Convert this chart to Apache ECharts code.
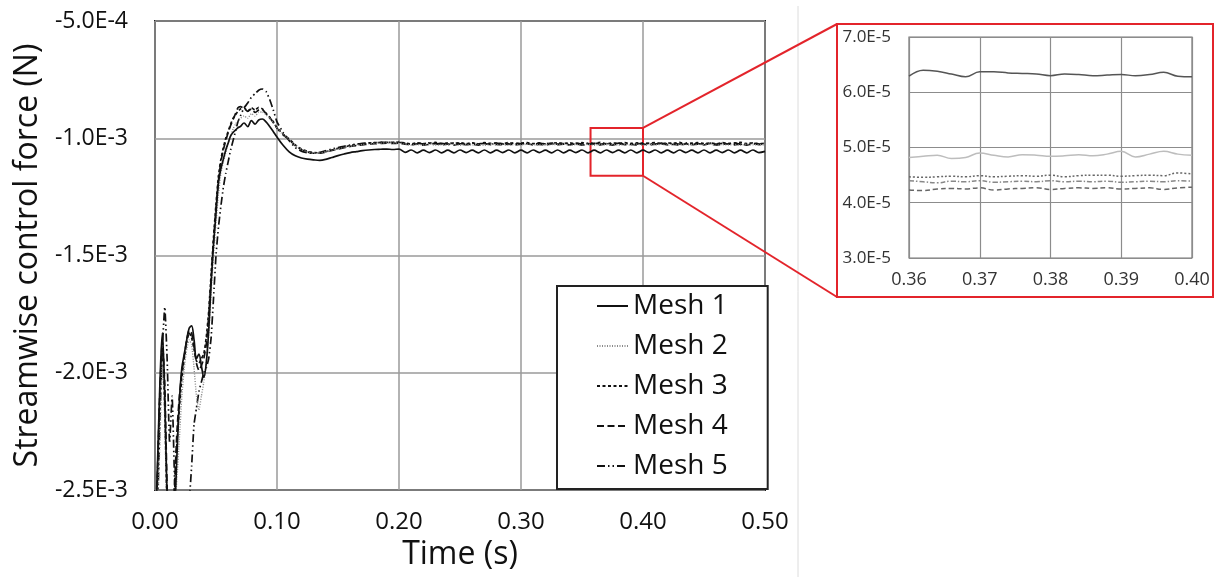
<!DOCTYPE html>
<html>
<head>
<meta charset="utf-8">
<script src="https://cdn.jsdelivr.net/npm/echarts@6/dist/echarts.min.js"></script>
<style>
html,body{margin:0;padding:0;background:#fff;}
#chart{width:1217px;height:577px;}
</style>
</head>
<body>
<div id="chart"></div>
<script>
// ---------------- DATA ----------------
const meshNames = ['Mesh 1', 'Mesh 2', 'Mesh 3', 'Mesh 4', 'Mesh 5'];

// Main chart: time (s)
const time = [
  0.000,0.002,0.004,0.006,0.008,0.010,0.012,0.014,0.016,0.018,
  0.020,0.022,0.024,0.026,0.028,0.030,0.032,0.034,0.036,0.038,
  0.040,0.042,0.044,0.046,0.048,0.050,0.052,0.054,0.056,0.058,
  0.060,0.062,0.064,0.066,0.068,0.070,
  0.073,0.076,0.079,0.082,0.085,0.088,0.091,0.094,0.097,0.100,
  0.105,0.110,0.115,0.120,0.125,0.130,0.135,0.140,0.145,0.150,
  0.155,0.160,0.165,0.170,0.175,0.180,0.185,0.190,0.195,0.200,
  0.205,0.210,0.215,0.220,0.225,0.230,0.235,0.240,0.245,0.250,
  0.255,0.260,0.265,0.270,0.275,0.280,0.285,0.290,0.295,0.300,
  0.305,0.310,0.315,0.320,0.325,0.330,0.335,0.340,0.345,0.350,
  0.355,0.360,0.365,0.370,0.375,0.380,0.385,0.390,0.395,0.400,
  0.405,0.410,0.415,0.420,0.425,0.430,0.435,0.440,0.445,0.450,
  0.455,0.460,0.465,0.470,0.475,0.480,0.485,0.490,0.495,0.500
];

// Streamwise control force, in mN (converted to N when building series)
const mesh1_mN = [
  -2.70,-2.40,-2.05,-1.83,-2.10,-2.55,-2.75,-2.70,-2.60,-2.35,
  -2.12,-1.98,-1.92,-1.86,-1.81,-1.80,-1.86,-1.94,-1.92,-1.97,
  -2.02,-1.96,-1.82,-1.62,-1.45,-1.32,-1.19,-1.13,-1.09,-1.05,
  -1.02,-0.99,-0.975,-0.965,-0.955,-0.950,
  -0.935,-0.950,-0.925,-0.940,-0.922,-0.918,-0.930,-0.950,-0.972,-0.995,
  -1.030,-1.058,-1.075,-1.084,-1.089,-1.092,-1.094,-1.090,-1.082,-1.074,
  -1.067,-1.061,-1.057,-1.053,-1.050,-1.048,-1.047,-1.046,-1.048,-1.046,
  -1.060,-1.050,-1.062,-1.051,-1.061,-1.050,-1.062,-1.051,-1.062,-1.050,
  -1.061,-1.051,-1.062,-1.050,-1.062,-1.051,-1.061,-1.050,-1.062,-1.051,
  -1.062,-1.050,-1.061,-1.051,-1.062,-1.050,-1.062,-1.051,-1.061,-1.050,
  -1.062,-1.051,-1.062,-1.050,-1.061,-1.051,-1.062,-1.050,-1.062,-1.051,
  -1.061,-1.050,-1.062,-1.051,-1.062,-1.050,-1.061,-1.051,-1.062,-1.050,
  -1.062,-1.051,-1.061,-1.050,-1.062,-1.051,-1.062,-1.050,-1.061,-1.056
];
const mesh2_mN = [
  -2.80,-2.60,-2.30,-1.95,-2.20,-2.65,-2.80,-2.75,-2.60,-2.45,
  -2.28,-2.10,-1.98,-1.90,-1.86,-1.88,-1.98,-2.10,-2.16,-2.10,
  -2.04,-1.96,-1.84,-1.66,-1.50,-1.36,-1.24,-1.15,-1.10,-1.06,
  -1.02,-0.99,-0.96,-0.94,-0.925,-0.915,
  -0.905,-0.915,-0.895,-0.905,-0.890,-0.888,-0.900,-0.915,-0.935,-0.958,
  -0.985,-1.005,-1.030,-1.048,-1.058,-1.063,-1.063,-1.058,-1.051,-1.045,
  -1.039,-1.034,-1.030,-1.027,-1.024,-1.022,-1.021,-1.020,-1.021,-1.020,
  -1.026,-1.030,-1.027,-1.029,-1.025,-1.030,-1.028,-1.027,-1.025,-1.030,
  -1.027,-1.029,-1.026,-1.030,-1.025,-1.028,-1.027,-1.030,-1.026,-1.029,
  -1.025,-1.029,-1.027,-1.030,-1.026,-1.028,-1.025,-1.030,-1.027,-1.029,
  -1.026,-1.030,-1.025,-1.028,-1.027,-1.030,-1.026,-1.029,-1.025,-1.030,
  -1.027,-1.028,-1.026,-1.030,-1.025,-1.029,-1.027,-1.030,-1.026,-1.028,
  -1.025,-1.030,-1.027,-1.029,-1.026,-1.030,-1.025,-1.028,-1.027,-1.029
];
const mesh3_mN = [
  -2.75,-2.45,-2.10,-1.90,-2.15,-2.60,-2.75,-2.65,-2.50,-2.30,
  -2.15,-2.02,-1.94,-1.87,-1.83,-1.85,-1.90,-1.95,-1.96,-1.94,
  -1.92,-1.85,-1.74,-1.58,-1.42,-1.28,-1.16,-1.09,-1.04,-1.00,
  -0.97,-0.94,-0.915,-0.900,-0.885,-0.875,
  -0.870,-0.885,-0.870,-0.880,-0.868,-0.875,-0.893,-0.910,-0.930,-0.955,
  -0.982,-1.003,-1.028,-1.046,-1.056,-1.061,-1.062,-1.057,-1.050,-1.043,
  -1.037,-1.031,-1.027,-1.024,-1.021,-1.019,-1.018,-1.017,-1.018,-1.017,
  -1.020,-1.024,-1.019,-1.023,-1.021,-1.018,-1.024,-1.020,-1.022,-1.019,
  -1.023,-1.020,-1.024,-1.019,-1.022,-1.020,-1.023,-1.018,-1.024,-1.021,
  -1.019,-1.023,-1.020,-1.024,-1.021,-1.019,-1.022,-1.020,-1.024,-1.019,
  -1.023,-1.021,-1.018,-1.024,-1.020,-1.022,-1.019,-1.023,-1.020,-1.024,
  -1.021,-1.019,-1.023,-1.020,-1.022,-1.018,-1.024,-1.021,-1.019,-1.023,
  -1.020,-1.024,-1.019,-1.022,-1.021,-1.018,-1.023,-1.020,-1.024,-1.021
];
const mesh4_mN = [
  -2.72,-2.42,-2.08,-1.86,-2.05,-2.50,-2.70,-2.62,-2.48,-2.25,
  -2.10,-2.00,-1.93,-1.86,-1.82,-1.83,-1.89,-1.96,-1.99,-1.97,
  -1.94,-1.88,-1.76,-1.60,-1.44,-1.30,-1.18,-1.10,-1.05,-1.01,
  -0.975,-0.945,-0.920,-0.895,-0.870,-0.865,
  -0.872,-0.885,-0.875,-0.890,-0.880,-0.878,-0.895,-0.912,-0.933,-0.957,
  -0.986,-1.006,-1.031,-1.049,-1.059,-1.064,-1.064,-1.059,-1.052,-1.046,
  -1.040,-1.035,-1.031,-1.028,-1.025,-1.023,-1.022,-1.021,-1.022,-1.021,
  -1.025,-1.028,-1.024,-1.029,-1.026,-1.023,-1.028,-1.025,-1.029,-1.024,
  -1.027,-1.025,-1.029,-1.023,-1.027,-1.026,-1.028,-1.024,-1.029,-1.025,
  -1.023,-1.028,-1.026,-1.029,-1.024,-1.027,-1.025,-1.028,-1.023,-1.029,
  -1.026,-1.024,-1.028,-1.025,-1.029,-1.023,-1.027,-1.026,-1.028,-1.024,
  -1.029,-1.025,-1.023,-1.028,-1.026,-1.029,-1.024,-1.027,-1.025,-1.028,
  -1.023,-1.029,-1.026,-1.024,-1.028,-1.025,-1.029,-1.024,-1.027,-1.026
];
const mesh5_mN = [
  -2.80,-2.60,-2.20,-1.90,-1.72,-1.95,-2.30,-2.10,-2.45,-2.70,
  -2.80,-2.75,-2.70,-2.62,-2.55,-2.40,-2.22,-2.15,-2.08,-2.04,
  -2.00,-1.98,-1.94,-1.85,-1.68,-1.50,-1.38,-1.29,-1.21,-1.15,
  -1.10,-1.05,-1.01,-0.97,-0.93,-0.905,
  -0.870,-0.850,-0.825,-0.810,-0.795,-0.790,-0.800,-0.835,-0.880,-0.930,
  -0.975,-1.010,-1.040,-1.055,-1.062,-1.064,-1.060,-1.053,-1.046,-1.040,
  -1.034,-1.029,-1.025,-1.022,-1.020,-1.019,-1.018,-1.017,-1.018,-1.017,
  -1.022,-1.026,-1.021,-1.025,-1.020,-1.024,-1.022,-1.026,-1.021,-1.023,
  -1.025,-1.020,-1.024,-1.022,-1.026,-1.021,-1.025,-1.023,-1.020,-1.024,
  -1.022,-1.026,-1.021,-1.024,-1.020,-1.025,-1.023,-1.026,-1.021,-1.024,
  -1.022,-1.020,-1.025,-1.023,-1.026,-1.021,-1.024,-1.022,-1.025,-1.020,
  -1.023,-1.026,-1.021,-1.024,-1.022,-1.025,-1.020,-1.024,-1.023,-1.026,
  -1.021,-1.025,-1.022,-1.024,-1.020,-1.026,-1.023,-1.021,-1.025,-1.022
];

// Inset (zoom 0.36-0.40 s): values in units of 1E-5 N
const insetTime = [
  0.360,0.362,0.364,0.366,0.368,0.370,0.372,0.374,0.376,0.378,
  0.380,0.382,0.384,0.386,0.388,0.390,0.392,0.394,0.396,0.398,0.400
];
const inset1_e5 = [6.29,6.40,6.38,6.33,6.28,6.37,6.37,6.35,6.34,6.33,6.30,6.33,6.32,6.30,6.31,6.32,6.30,6.32,6.36,6.29,6.28];
const inset2_e5 = [4.82,4.84,4.86,4.80,4.82,4.90,4.86,4.83,4.87,4.86,4.84,4.85,4.87,4.85,4.88,4.93,4.83,4.88,4.93,4.88,4.86];
const inset3_e5 = [4.47,4.46,4.47,4.48,4.47,4.49,4.47,4.48,4.49,4.48,4.50,4.47,4.49,4.50,4.50,4.48,4.49,4.50,4.49,4.54,4.52];
const inset4_e5 = [4.23,4.22,4.25,4.26,4.25,4.27,4.23,4.25,4.26,4.27,4.24,4.26,4.27,4.26,4.27,4.25,4.26,4.27,4.24,4.27,4.28];
const inset5_e5 = [4.40,4.38,4.36,4.39,4.38,4.40,4.37,4.38,4.39,4.38,4.40,4.38,4.39,4.38,4.39,4.37,4.38,4.39,4.38,4.40,4.39];

// Zoom box drawn on the main chart (time s, force N)
const zoomBox = { t0: 0.357, t1: 0.400, vTop: -0.956e-3, vBottom: -1.160e-3 };

// ---------------- CHART ----------------
const FONT = 'Open Sans';
const RED = '#e3242b';
const chart = echarts.init(document.getElementById('chart'), null, { renderer: 'canvas' });

const mainVals = [mesh1_mN, mesh2_mN, mesh3_mN, mesh4_mN, mesh5_mN];
const insetVals = [inset1_e5, inset2_e5, inset3_e5, inset4_e5, inset5_e5];

const mainStyles = [
  { color: '#111', type: 'solid', width: 1.7 },
  { color: '#8a8a8a', type: [1, 1.5], width: 1.4 },
  { color: '#111', type: [3, 2.5], width: 1.7 },
  { color: '#111', type: [7, 3.5], width: 1.7 },
  { color: '#111', type: [8, 3, 1.5, 3, 1.5, 3], width: 1.7 }
];
const insetStyles = [
  { color: '#555', type: 'solid', width: 1.5 },
  { color: '#bdbdbd', type: 'solid', width: 1.5 },
  { color: '#666', type: [2, 2], width: 1.5 },
  { color: '#666', type: [5, 3], width: 1.5 },
  { color: '#888', type: [5, 2, 1.5, 2], width: 1.5 }
];

const series = [];
meshNames.forEach((name, k) => {
  const s = {
    name: name,
    type: 'line',
    xAxisIndex: 0, yAxisIndex: 0,
    symbol: 'none',
    smooth: k === 0 ? 0.35 : 0.15,
    color: mainStyles[k].color,
    lineStyle: mainStyles[k],
    data: time.map((t, i) => [t, mainVals[k][i] * 1e-3]),
    z: 3 + (4 - k)
  };
  if (k === 0) {
    s.markArea = {
      silent: true,
      itemStyle: { color: 'rgba(0,0,0,0)', borderColor: RED, borderWidth: 2 },
      data: [[{ coord: [zoomBox.t0, zoomBox.vTop] }, { coord: [zoomBox.t1, zoomBox.vBottom] }]]
    };
  }
  series.push(s);
});
meshNames.forEach((name, k) => {
  series.push({
    name: name + ' (zoom)',
    type: 'line',
    xAxisIndex: 1, yAxisIndex: 1,
    symbol: 'none',
    smooth: 0.4,
    color: insetStyles[k].color,
    lineStyle: insetStyles[k],
    data: insetTime.map((t, i) => [t, insetVals[k][i] * 1e-5])
  });
});

const expFmt = v => Number(v).toExponential(1).replace('e', 'E');

const option = {
  animation: false,
  backgroundColor: '#fff',
  textStyle: { fontFamily: FONT },
  grid: [
    { left: 155, top: 21, width: 610, height: 469, show: true, borderColor: '#222', borderWidth: 2, backgroundColor: 'transparent' },
    { left: 909, top: 37, width: 283, height: 221, show: true, borderColor: '#777', borderWidth: 1.2, backgroundColor: 'transparent' }
  ],
  xAxis: [
    {
      gridIndex: 0, type: 'value', min: 0, max: 0.5, interval: 0.1,
      name: 'Time (s)', nameLocation: 'middle', nameGap: 49,
      nameTextStyle: { fontSize: 32, fontFamily: FONT, color: '#111' },
      axisLine: { show: false }, axisTick: { show: false },
      axisLabel: { fontSize: 24, fontFamily: FONT, color: '#111', margin: 20, formatter: v => v.toFixed(2) },
      splitLine: { show: true, lineStyle: { color: '#9a9a9a', width: 1.5 } }
    },
    {
      gridIndex: 1, type: 'value', min: 0.36, max: 0.40, interval: 0.01,
      axisLine: { show: false }, axisTick: { show: false },
      axisLabel: { fontSize: 18, fontFamily: FONT, color: '#333', margin: 13, formatter: v => v.toFixed(2) },
      splitLine: { show: true, lineStyle: { color: '#8c8c8c', width: 1.2 } }
    }
  ],
  yAxis: [
    {
      gridIndex: 0, type: 'value', min: -0.0025, max: -0.0005, interval: 0.0005,
      name: 'Streamwise control force (N)', nameLocation: 'middle', nameGap: 102,
      nameTextStyle: { fontSize: 32, fontFamily: FONT, color: '#111' },
      axisLine: { show: false }, axisTick: { show: false },
      axisLabel: { fontSize: 23, fontFamily: FONT, color: '#111', margin: 27, formatter: expFmt },
      splitLine: { show: true, lineStyle: { color: '#9a9a9a', width: 1.5 } }
    },
    {
      gridIndex: 1, type: 'value', min: 3e-5, max: 7e-5, interval: 1e-5,
      axisLine: { show: false }, axisTick: { show: false },
      axisLabel: { fontSize: 17, fontFamily: FONT, color: '#333', margin: 18, formatter: expFmt },
      splitLine: { show: true, lineStyle: { color: '#8c8c8c', width: 1.2 } }
    }
  ],
  legend: {
    data: meshNames,
    orient: 'vertical',
    left: 557, top: 286,
    padding: [5, 40, 8, 39],
    itemGap: 10,
    itemWidth: 31, itemHeight: 14,
    itemStyle: { opacity: 0 },
    backgroundColor: '#fff',
    borderColor: '#222', borderWidth: 2, borderRadius: 0,
    textStyle: { fontSize: 28, fontFamily: FONT, color: '#111', lineHeight: 30 },
    selectedMode: false
  },
  series: series
};
chart.setOption(option);

// Connectors from the zoom box to the inset frame
const pTop = chart.convertToPixel({ gridIndex: 0 }, [zoomBox.t1, zoomBox.vTop]);
const pBot = chart.convertToPixel({ gridIndex: 0 }, [zoomBox.t1, zoomBox.vBottom]);
const frame = { x: 837, y: 24, w: 376, h: 273 };
chart.setOption({
  graphic: [
    { type: 'line', shape: { x1: 798, y1: 6, x2: 798, y2: 577 }, style: { stroke: '#dcdcdc', lineWidth: 1 }, z: 1 },
    { type: 'rect', shape: { x: frame.x, y: frame.y, width: frame.w, height: frame.h }, style: { fill: 'transparent', stroke: RED, lineWidth: 2 }, z: 10 },
    { type: 'line', shape: { x1: pTop[0], y1: pTop[1], x2: frame.x, y2: frame.y }, style: { stroke: RED, lineWidth: 2 }, z: 10 },
    { type: 'line', shape: { x1: pBot[0], y1: pBot[1], x2: frame.x, y2: frame.y + frame.h }, style: { stroke: RED, lineWidth: 2 }, z: 10 }
  ]
});
</script>
</body>
</html>
